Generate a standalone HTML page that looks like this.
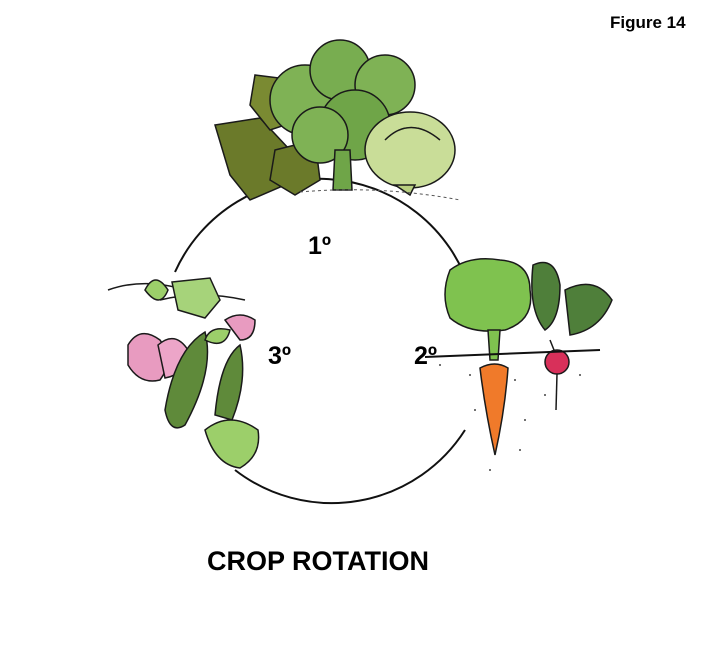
<!DOCTYPE html>
<html><head><style>
body{margin:0;background:#fff;width:718px;height:650px;overflow:hidden}
svg{display:block}
text{font-family:"Liberation Sans",Arial,sans-serif;font-weight:bold;fill:#000}
</style></head><body>
<svg width="718" height="650" viewBox="0 0 718 650">
<!-- rotation circle arcs -->
<path d="M175 272 A158 158 0 0 1 470 290" fill="none" stroke="#111" stroke-width="2"/>
<path d="M465 430 A158 158 0 0 1 235 470" fill="none" stroke="#111" stroke-width="2"/>

<!-- top greens -->
<g stroke="#1a1a1a" stroke-width="1.5">
<path d="M215 125 L260 118 L290 150 L285 185 L250 200 L230 175 Z" fill="#6b7a2a"/>
<path d="M255 75 L295 80 L300 120 L270 130 L250 105 Z" fill="#7a8a32"/>
<path d="M275 150 L315 140 L320 180 L295 195 L270 180 Z" fill="#6b7a2a"/>
<circle cx="305" cy="100" r="35" fill="#7fb255"/>
<circle cx="340" cy="70" r="30" fill="#78ad50"/>
<circle cx="385" cy="85" r="30" fill="#7fb255"/>
<circle cx="355" cy="125" r="35" fill="#6fa548"/>
<circle cx="320" cy="135" r="28" fill="#7fb255"/>
<path d="M335 150 L350 150 L352 190 L333 190 Z" fill="#6fa548"/>
<ellipse cx="410" cy="150" rx="45" ry="38" fill="#c9dd98"/>
<path d="M385 140 Q410 115 440 140" fill="none"/>
<path d="M395 185 L415 185 L410 195 Z" fill="#b8cf80"/>
</g>
<path d="M300 192 Q380 185 460 200" stroke="#555" stroke-width="1" fill="none" stroke-dasharray="3 3"/>

<!-- peas left -->
<g stroke="#1a1a1a" stroke-width="1.5">
<path d="M108 290 Q150 275 200 295 M160 300 Q200 290 245 300" fill="none"/>
<path d="M145 290 Q155 270 168 290 Q160 310 145 290Z" fill="#9ccf6a"/>
<path d="M172 282 L210 278 L220 300 L205 318 L178 310 Z" fill="#a6d37a"/>
<path d="M128 345 Q140 325 160 340 Q175 360 160 380 Q140 385 128 365 Z" fill="#e89bc0"/>
<path d="M158 345 Q175 330 188 350 Q185 375 165 378 Z" fill="#eca5c8"/>
<path d="M225 320 Q240 310 255 320 Q255 340 240 340 Z" fill="#e89bc0"/>
<path d="M165 410 Q175 350 205 332 Q215 370 185 425 Q170 435 165 410Z" fill="#5f8a3a"/>
<path d="M215 415 Q220 360 240 345 Q248 380 232 420 Z" fill="#5f8a3a"/>
<path d="M205 430 Q230 410 258 430 Q262 455 240 468 Q215 465 205 430Z" fill="#9ccf6a"/>
<path d="M205 340 Q210 325 230 330 Q225 350 205 340Z" fill="#9ccf6a"/>
</g>

<!-- carrot -->
<g stroke="#1a1a1a" stroke-width="1.5">
<path d="M450 270 Q470 255 500 260 Q530 262 530 290 Q535 320 505 330 Q470 335 450 318 Q440 295 450 270Z" fill="#7fc24f"/>
<path d="M488 330 L500 330 L498 360 L490 360 Z" fill="#7fc24f"/>
<path d="M480 368 Q495 360 508 368 Q505 410 495 455 Q485 410 480 368Z" fill="#f07a2a"/>
<!-- radish -->
<path d="M533 265 Q555 255 560 285 Q560 320 545 330 Q528 310 533 265Z" fill="#4f7f3a"/>
<path d="M565 290 Q595 275 612 300 Q600 330 570 335 Z" fill="#4f7f3a"/>
<path d="M550 340 L558 360" fill="none"/>
<circle cx="557" cy="362" r="12" fill="#d8305a"/>
<path d="M557 374 L556 410" fill="none"/>
</g>
<line x1="425" y1="357" x2="600" y2="350" stroke="#111" stroke-width="2"/>
<g fill="#444">
<circle cx="440" cy="365" r="1"/><circle cx="470" cy="375" r="1"/><circle cx="475" cy="410" r="1"/>
<circle cx="515" cy="380" r="1"/><circle cx="525" cy="420" r="1"/><circle cx="580" cy="375" r="1"/>
<circle cx="490" cy="470" r="1"/><circle cx="545" cy="395" r="1"/><circle cx="520" cy="450" r="1"/>
</g>

<text x="610" y="28" font-size="17">Figure 14</text>
<text x="308" y="254" font-size="25">1º</text>
<text x="268" y="364" font-size="25">3º</text>
<text x="414" y="364" font-size="25">2º</text>
<text x="207" y="570" font-size="27">CROP ROTATION</text>
</svg>
</body></html>
